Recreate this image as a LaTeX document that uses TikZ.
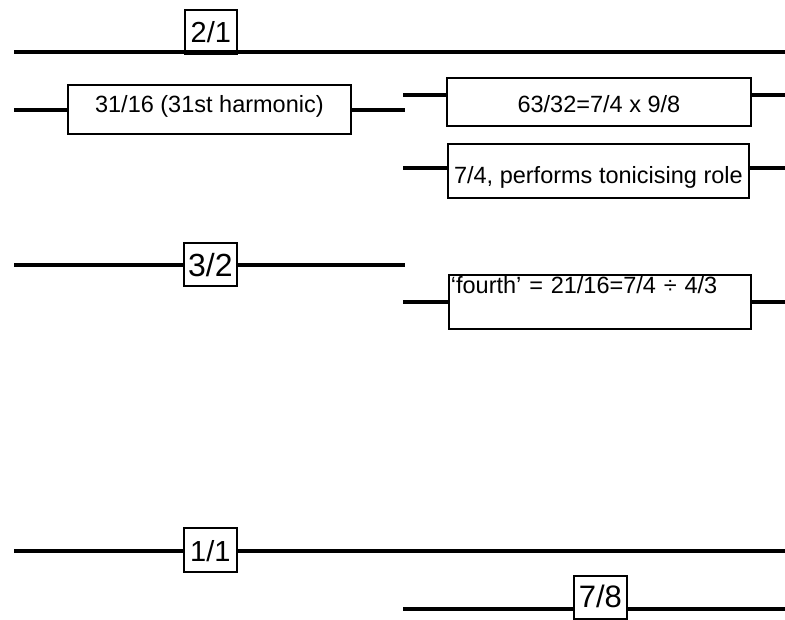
\documentclass[tikz,border=0pt]{standalone}
\usepackage{fontspec}
\setmainfont{Liberation Sans}
\begin{document}
\begin{tikzpicture}[x=1pt,y=-1pt,
  wire/.style={line width=4pt},
  box/.style={draw, line width=1.8pt, fill=white, inner sep=0pt, anchor=north west},
  txt/.style={font=\fontsize{23.5}{24}\selectfont}]
\useasboundingbox (0,0) rectangle (785,619);
% boxes
\node[box, minimum width=52pt, text height=33pt, text depth=11pt, font=\fontsize{29}{29}\selectfont] (r21) at (184,9) {2/1};
\node[box, txt, minimum width=283pt, text height=28pt, text depth=21pt] (r3116) at (67,84) {31/16 (31st harmonic)};
\node[box, txt, minimum width=304pt, text height=35pt, text depth=13pt] (r6332) at (446,77) {63/32=7/4 x 9/8};
\node[box, txt, minimum width=301pt, text height=40pt, text depth=14pt] (r74) at (447,143) {7/4, performs tonicising role};
\node[box, minimum width=53pt, text height=34pt, text depth=9pt, font=\fontsize{32}{32}\selectfont] (r32) at (183,242) {3/2};
\node[box, txt, text width=298pt, inner xsep=2pt, align=left, text height=19pt, text depth=35pt] (r4th) at (448,274) {‘fourth’ = 21/16=7/4 ÷ 4/3};
\node[box, minimum width=53pt, text height=34pt, text depth=10pt, font=\fontsize{29}{29}\selectfont] (r11) at (183,527) {1/1};
\node[box, minimum width=53pt, text height=32pt, text depth=11pt, font=\fontsize{31}{31}\selectfont] (r78) at (573,575) {7/8};
% line end points
\coordinate (a1) at (14,52);  \coordinate (b1) at (785,52);
\coordinate (a2) at (14,110); \coordinate (b2) at (405,110);
\coordinate (a3) at (403,95); \coordinate (b3) at (785,95);
\coordinate (a4) at (403,168); \coordinate (b4) at (785,168);
\coordinate (a5) at (14,265); \coordinate (b5) at (405,265);
\coordinate (a6) at (403,302); \coordinate (b6) at (785,302);
\coordinate (a7) at (14,551); \coordinate (b7) at (785,551);
\coordinate (a8) at (403,609); \coordinate (b8) at (785,609);
% lines
\draw[wire] (a1) -- (b1);
\draw[wire] (a2) -- (a2 -| r3116.west);  \draw[wire] (a2 -| r3116.east) -- (b2);
\draw[wire] (a3) -- (a3 -| r6332.west);  \draw[wire] (a3 -| r6332.east) -- (b3);
\draw[wire] (a4) -- (a4 -| r74.west);    \draw[wire] (a4 -| r74.east) -- (b4);
\draw[wire] (a5) -- (a5 -| r32.west);    \draw[wire] (a5 -| r32.east) -- (b5);
\draw[wire] (a6) -- (a6 -| r4th.west);   \draw[wire] (a6 -| r4th.east) -- (b6);
\draw[wire] (a7) -- (a7 -| r11.west);    \draw[wire] (a7 -| r11.east) -- (b7);
\draw[wire] (a8) -- (a8 -| r78.west);    \draw[wire] (a8 -| r78.east) -- (b8);
\end{tikzpicture}
\end{document}
